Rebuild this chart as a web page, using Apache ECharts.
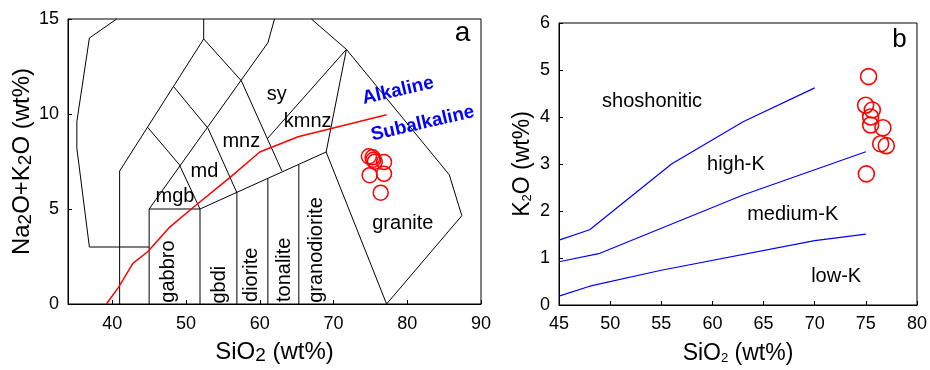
<!DOCTYPE html>
<html>
<head>
<meta charset="utf-8">
<script src="https://cdn.jsdelivr.net/npm/echarts@6/dist/echarts.min.js"></script>
<style>
  html, body { margin: 0; padding: 0; background: #fff; }
  #chart { width: 930px; height: 370px; }
</style>
</head>
<body>
<div id="chart"></div>
<script>
// --- panel a: TAS (plutonic) diagram ---
const tasXTicks = [40, 50, 60, 70, 80, 90]

// field boundaries, one polyline each, [SiO2, Na2O+K2O]
const tasBoundaries = [
  [[40.6, 15], [36.9, 14], [35.2, 9.6], [35.2, 8.2], [36.9, 3], [45, 3]],
  [[41, 0], [41, 7], [52.4, 13.95], [52.4, 15]],
  [[45, 0], [45, 5], [51.9, 5], [51.9, 0]],
  [[45, 5], [61.1, 13.75], [62.0, 15]],
  [[44.8, 9.3], [49.1, 7.33], [51.9, 5]],
  [[48.3, 11.45], [53.0, 9.24], [56.9, 5.86], [56.9, 0]],
  [[52.4, 13.95], [57.5, 11.75], [63.0, 7.0]],
  [[51.9, 5], [69, 8]],
  [[61.1, 0], [61.1, 6.6]],
  [[65.3, 0], [65.3, 7.35]],
  [[77.2, 0], [69, 8], [71.75, 13.4], [85.7, 6.8], [87.4, 4.65], [77.2, 0]],
  [[67.0, 15], [71.75, 13.4]],
  [[61.0, 8.69], [71.75, 13.4]]
]

// alkaline / subalkaline divide
const alkalineLine = [
  [39.2, 0], [40.8, 0.85], [42.8, 2.14], [44.8, 2.75], [47.8, 4.05],
  [51.0, 5.09], [55.9, 6.64], [60.0, 8.0], [65.2, 8.8], [77.2, 9.96]
]

const tasSamples = [
  [74.8, 7.77], [75.3, 7.72], [75.6, 7.49], [75.4, 7.59],
  [76.85, 7.47], [74.9, 6.78], [76.85, 6.85], [76.4, 5.86]
]

// [text, x, y]
const tasLabels = [
  ['sy', 62.3, 11.05], ['kmnz', 66.5, 9.58], ['mnz', 57.5, 8.55],
  ['md', 52.5, 6.95], ['mgb', 48.5, 5.66], ['granite', 79.4, 4.22]
]
const tasRotLabels = [
  ['gabbro', 47.6, 1.71], ['gbdi', 54.6, 1.02], ['diorite', 58.9, 1.54],
  ['tonalite', 63.4, 1.8], ['granodiorite', 67.7, 2.84]
]
const seriesLabels = [
  ['Alkaline', 78.75, 11.22], ['Subalkaline', 82.1, 9.5]
]

// --- panel b: K2O vs SiO2 ---
const kBoundaryHigh = [[45, 1.38], [48, 1.6], [56, 3.0], [63, 3.9], [70, 4.62]]
const kBoundaryMid = [[45, 0.92], [49, 1.1], [63, 2.34], [75, 3.26]]
const kBoundaryLow = [[45, 0.19], [48, 0.4], [55, 0.74], [70, 1.37], [75, 1.51]]

const kSamples = [
  [75.27, 4.86], [74.98, 4.25], [75.63, 4.15], [75.47, 4.0], [75.47, 3.83],
  [76.67, 3.77], [76.45, 3.43], [77.0, 3.39], [75.05, 2.79]
]

const kLabels = [
  ['shoshonitic', 54.1, 4.33], ['high-K', 62.3, 3.0],
  ['medium-K', 67.85, 1.93], ['low-K', 72.1, 0.61]
]

const font = "'Liberation Sans', Arial, sans-serif"

function textSeries(list, xi, opts) {
  return {
    type: 'scatter',
    xAxisIndex: xi,
    yAxisIndex: xi,
    symbolSize: 0,
    silent: true,
    z: 5,
    itemStyle: { opacity: 1 },
    data: list.map(d => ({ value: [d[1], d[2]], name: d[0] })),
    label: Object.assign({
      show: true,
      position: 'inside',
      formatter: p => p.name,
      color: '#000',
      textBorderWidth: 0,
      fontFamily: font,
      fontSize: 20
    }, opts)
  }
}

function axisBase() {
  return {
    type: 'value',
    splitLine: { show: false },
    axisLine: { show: true, lineStyle: { color: '#000', width: 1 } },
    axisTick: { show: true, inside: true, length: 4, lineStyle: { color: '#000' } },
    axisLabel: { color: '#000', fontFamily: font, fontSize: 18 },
    nameLocation: 'middle',
    nameTextStyle: { color: '#000', fontFamily: font }
  }
}

const chart = echarts.init(document.getElementById('chart'))

chart.setOption({
  animation: false,
  grid: [
    { left: 68, top: 19, width: 413, height: 289, show: true, borderColor: '#000', borderWidth: 1 },
    { left: 559, top: 23, width: 358, height: 290, show: true, borderColor: '#000', borderWidth: 1 }
  ],
  xAxis: [
    Object.assign(axisBase(), {
      gridIndex: 0, min: 34, max: 90,
      axisTick: { show: true, inside: true, length: 4, lineStyle: { color: '#000' }, customValues: tasXTicks },
      axisLabel: { color: '#000', fontFamily: font, fontSize: 18, margin: 11, customValues: tasXTicks },
      name: 'SiO{s|2} (wt%)',
      nameGap: 36,
      nameTextStyle: {
        color: '#000', fontFamily: font, fontSize: 24,
        rich: { s: { fontSize: 19, fontFamily: font, color: '#000', verticalAlign: 'bottom', padding: [6, 0, 0, 0] } }
      }
    }),
    Object.assign(axisBase(), {
      gridIndex: 1, min: 45, max: 80, interval: 5,
      axisLabel: { color: '#000', fontFamily: font, fontSize: 18, margin: 10 },
      name: 'SiO{s|2} (wt%)',
      nameGap: 37,
      nameTextStyle: {
        color: '#000', fontFamily: font, fontSize: 23,
        rich: { s: { fontSize: 13, fontFamily: font, color: '#000', verticalAlign: 'bottom', padding: [6, 0, 0, 0] } }
      }
    })
  ],
  yAxis: [
    Object.assign(axisBase(), {
      gridIndex: 0, min: 0, max: 15, interval: 5,
      axisLabel: { color: '#000', fontFamily: font, fontSize: 18, margin: 9 },
      name: 'Na{s|2}O+K{s|2}O (wt%)',
      nameGap: 31,
      nameTextStyle: {
        color: '#000', fontFamily: font, fontSize: 24,
        rich: { s: { fontSize: 19, fontFamily: font, color: '#000', verticalAlign: 'bottom', padding: [6, 0, 0, 0] } }
      }
    }),
    Object.assign(axisBase(), {
      gridIndex: 1, min: 0, max: 6, interval: 1,
      axisLabel: { color: '#000', fontFamily: font, fontSize: 18, margin: 9 },
      name: 'K{s|2}O (wt%)',
      nameGap: 25,
      nameTextStyle: {
        color: '#000', fontFamily: font, fontSize: 23,
        rich: { s: { fontSize: 13, fontFamily: font, color: '#000', verticalAlign: 'bottom', padding: [6, 0, 0, 0] } }
      }
    })
  ],
  series: [
    {
      type: 'lines',
      coordinateSystem: 'cartesian2d',
      xAxisIndex: 0,
      yAxisIndex: 0,
      polyline: true,
      silent: true,
      lineStyle: { color: '#000', width: 1, opacity: 1 },
      data: tasBoundaries.map(c => ({ coords: c }))
    },
    {
      type: 'line',
      xAxisIndex: 0,
      yAxisIndex: 0,
      data: alkalineLine,
      showSymbol: false,
      lineStyle: { color: '#ff0000', width: 1.5 },
      z: 4
    },
    {
      type: 'scatter',
      xAxisIndex: 0,
      yAxisIndex: 0,
      data: tasSamples,
      symbol: 'circle',
      symbolSize: 15,
      itemStyle: { color: 'rgba(0,0,0,0)', borderColor: '#ff0000', borderWidth: 1.5, opacity: 1 },
      z: 6
    },
    textSeries(tasLabels, 0, {}),
    textSeries(tasRotLabels, 0, { rotate: 90 }),
    textSeries(seriesLabels, 0, { color: '#0000ff', fontWeight: 'bold', fontSize: 19, rotate: 13 }),
    textSeries([['a', 87.5, 14.27]], 0, { fontSize: 28 }),

    {
      type: 'line', xAxisIndex: 1, yAxisIndex: 1, data: kBoundaryHigh,
      showSymbol: false, lineStyle: { color: '#0000ff', width: 1.2 }
    },
    {
      type: 'line', xAxisIndex: 1, yAxisIndex: 1, data: kBoundaryMid,
      showSymbol: false, lineStyle: { color: '#0000ff', width: 1.2 }
    },
    {
      type: 'line', xAxisIndex: 1, yAxisIndex: 1, data: kBoundaryLow,
      showSymbol: false, lineStyle: { color: '#0000ff', width: 1.2 }
    },
    {
      type: 'scatter',
      xAxisIndex: 1,
      yAxisIndex: 1,
      data: kSamples,
      symbol: 'circle',
      symbolSize: 16,
      itemStyle: { color: 'rgba(0,0,0,0)', borderColor: '#ff0000', borderWidth: 1.6, opacity: 1 },
      z: 6
    },
    textSeries(kLabels, 1, {}),
    textSeries([['b', 78.3, 5.65]], 1, { fontSize: 26 })
  ]
})
</script>
</body>
</html>
